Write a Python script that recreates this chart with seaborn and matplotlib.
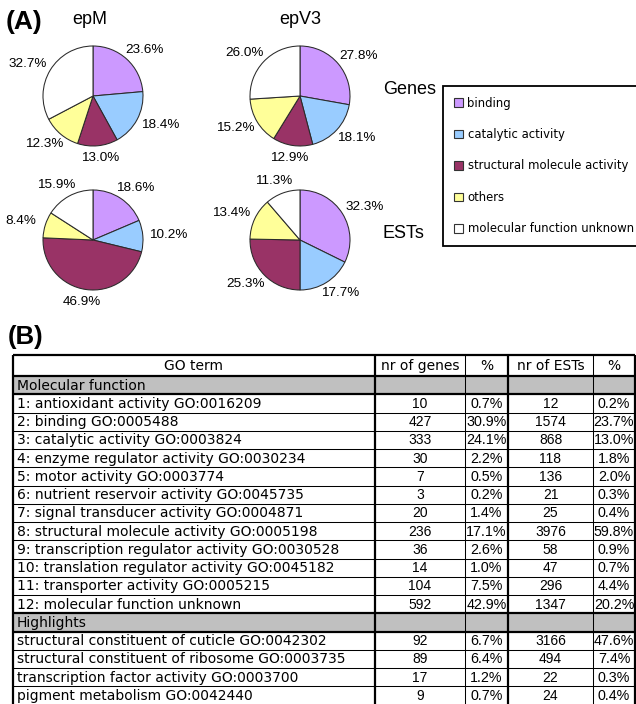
import numpy as np
import pandas as pd
import matplotlib
matplotlib.use("Agg")
import matplotlib.pyplot as plt
from matplotlib.patches import Patch, Rectangle
import seaborn as sns

# ---- pie chart data (percent of GO molecular-function classes) ----
categories = ["binding", "catalytic activity", "structural molecule activity",
              "others", "molecular function unknown"]
category_colors = ["#CC99FF", "#99CCFF", "#993366", "#FFFF99", "#FFFFFF"]

epm_genes = [23.6, 18.4, 13.0, 12.3, 32.7]
epm_ests = [18.6, 10.2, 46.9, 8.4, 15.9]
epv3_genes = [27.8, 18.1, 12.9, 15.2, 26.0]
epv3_ests = [32.3, 17.7, 25.3, 13.4, 11.3]

# ---- table data ----
table_header = ["GO term", "nr of genes", "%", "nr of ESTs", "%"]

mf_terms = [
    "1: antioxidant activity GO:0016209",
    "2: binding GO:0005488",
    "3: catalytic activity GO:0003824",
    "4: enzyme regulator activity GO:0030234",
    "5: motor activity GO:0003774",
    "6: nutrient reservoir activity GO:0045735",
    "7: signal transducer activity GO:0004871",
    "8: structural molecule activity GO:0005198",
    "9: transcription regulator activity GO:0030528",
    "10: translation regulator activity GO:0045182",
    "11: transporter activity GO:0005215",
    "12: molecular function unknown",
]
mf_genes = [10, 427, 333, 30, 7, 3, 20, 236, 36, 14, 104, 592]
mf_genes_pct = [0.7, 30.9, 24.1, 2.2, 0.5, 0.2, 1.4, 17.1, 2.6, 1.0, 7.5, 42.9]
mf_ests = [12, 1574, 868, 118, 136, 21, 25, 3976, 58, 47, 296, 1347]
mf_ests_pct = [0.2, 23.7, 13.0, 1.8, 2.0, 0.3, 0.4, 59.8, 0.9, 0.7, 4.4, 20.2]

hl_terms = [
    "structural constituent of cuticle GO:0042302",
    "structural constituent of ribosome GO:0003735",
    "transcription factor activity GO:0003700",
    "pigment metabolism GO:0042440",
]
hl_genes = [92, 89, 17, 9]
hl_genes_pct = [6.7, 6.4, 1.2, 0.7]
hl_ests = [3166, 494, 22, 24]
hl_ests_pct = [47.6, 7.4, 0.3, 0.4]

sns.set_theme(style="white", rc={"text.color": "black"})
plt.rcParams["font.family"] = ["Liberation Sans", "DejaVu Sans"]
palette = sns.color_palette(category_colors)
TABLE_FONT = "DejaVu Sans"
NUM_FONT = "Liberation Sans"

W, H = 636, 704
fig = plt.figure(figsize=(W / 100, H / 100), dpi=100)
fig.patch.set_facecolor("white")

# full-figure axes in pixel units (y downwards) for text, legend and table
ax = fig.add_axes([0, 0, 1, 1])
ax.set_xlim(0, W)
ax.set_ylim(H, 0)
ax.axis("off")

# ---------------- panel (A) ----------------
ax.text(6, 22, "(A)", fontsize=19, fontweight="bold", ha="left", va="center")
ax.text(90, 20, "epM", fontsize=13, ha="center", va="center")
ax.text(300, 20, "epV3", fontsize=13, ha="center", va="center")
ax.text(383, 89, "Genes", fontsize=13, ha="left", va="center")
ax.text(383, 234, "ESTs", fontsize=13, ha="left", va="center")

R_PX = 50  # pie radius in pixels
BOX = 1.6  # half-extent of each pie axes in radius units


def draw_pie(cx, cy, values):
    half = BOX * R_PX
    pax = fig.add_axes([(cx - half) / W, (H - cy - half) / H, 2 * half / W, 2 * half / H])
    pax.patch.set_alpha(0)
    wedges, _ = pax.pie(values, colors=palette, startangle=90, counterclock=False,
                        radius=1, wedgeprops=dict(edgecolor="#2a2a2a", linewidth=0.75))
    pax.set_xlim(-BOX, BOX)
    pax.set_ylim(-BOX, BOX)
    pax.set_aspect("equal")
    pax.axis("off")
    for w, v in zip(wedges, values):
        mid = np.deg2rad((w.theta1 + w.theta2) / 2)
        c, s = np.cos(mid), np.sin(mid)
        pax.annotate(f"{v:.1f}%", xy=(1.1 * c, 1.1 * s), xytext=(c * 15, s * 5.5),
                     textcoords="offset points", ha="center", va="center",
                     fontsize=9.7, color="black")


draw_pie(93, 96, epm_genes)
draw_pie(300, 96, epv3_genes)
draw_pie(93, 240, epm_ests)
draw_pie(300, 240, epv3_ests)

handles = [Patch(facecolor=col, edgecolor="#333333", linewidth=0.8, label=cat)
           for cat, col in zip(categories, palette)]
leg = ax.legend(handles=handles, loc="upper left", bbox_to_anchor=(443, 86),
                bbox_transform=ax.transData, frameon=True, fancybox=False,
                edgecolor="black", framealpha=1,
                prop={"family": TABLE_FONT, "size": 8.4},
                handlelength=0.77, handleheight=0.77, handletextpad=0.42,
                labelspacing=1.58, borderpad=0.91, borderaxespad=0)
leg.get_frame().set_linewidth(1.3)
for t in leg.get_texts():
    t.set_color("black")

# ---------------- panel (B) ----------------
ax.text(8, 337, "(B)", fontsize=18.5, fontweight="bold", ha="left", va="center")

rows = [("header", table_header)]
rows.append(("section", ["Molecular function", "", "", "", ""]))
for t, g, gp, e, ep in zip(mf_terms, mf_genes, mf_genes_pct, mf_ests, mf_ests_pct):
    rows.append(("data", [t, str(g), f"{gp:.1f}%", str(e), f"{ep:.1f}%"]))
rows.append(("section", ["Highlights", "", "", "", ""]))
for t, g, gp, e, ep in zip(hl_terms, hl_genes, hl_genes_pct, hl_ests, hl_ests_pct):
    rows.append(("data", [t, str(g), f"{gp:.1f}%", str(e), f"{ep:.1f}%"]))
table = pd.DataFrame([r[1] for r in rows], columns=["term", "ng", "pg", "ne", "pe"])
table["kind"] = [r[0] for r in rows]

col_edges = [13, 375, 465, 508, 593, 635]
top = 355
header_h = 21
row_h = 18.25
thick, thin = 1.6, 0.75

row_tops = [top] + [top + header_h + i * row_h for i in range(len(table))]
for i, rec in table.iterrows():
    y0 = row_tops[i]
    y1 = row_tops[i + 1] if i + 1 < len(row_tops) else y0 + row_h
    yc = (y0 + y1) / 2 + 0.5
    if rec["kind"] == "section":
        ax.add_patch(Rectangle((col_edges[0], y0), col_edges[-1] - col_edges[0], y1 - y0,
                               facecolor="#C0C0C0", edgecolor="none", zorder=0))
    if rec["kind"] == "header":
        ax.text((col_edges[0] + col_edges[1]) / 2, yc, rec["term"], ha="center",
                va="center", fontsize=10, family=TABLE_FONT)
    else:
        ax.text(col_edges[0] + 4, yc, rec["term"], ha="left", va="center",
                fontsize=10, family=TABLE_FONT)
    for j, key in enumerate(["ng", "pg", "ne", "pe"]):
        xc = (col_edges[j + 1] + col_edges[j + 2]) / 2
        if rec["kind"] == "header":
            ax.text(xc, yc, rec[key], ha="center", va="center", fontsize=10, family=TABLE_FONT)
        else:
            fs = 10.0 if key in ("ng", "ne") else 10.3
            ax.text(xc, yc, rec[key], ha="center", va="center", fontsize=fs, family=NUM_FONT)

bottom = row_tops[-1] + row_h
section_idx = [i for i, k in enumerate(table["kind"]) if k == "section"]
for i, y in enumerate(row_tops):
    lw = thick if (i == 0 or i in section_idx or i - 1 in section_idx) else thin
    ax.hlines(y, col_edges[0], col_edges[-1], color="black", linewidth=lw)
ax.hlines(bottom, col_edges[0], col_edges[-1], color="black", linewidth=thin)
for k, x in enumerate(col_edges):
    lw = thin if k in (2, 4) else thick
    ax.vlines(x, top, bottom, color="black", linewidth=lw)

fig.savefig("out.png", dpi=100)
